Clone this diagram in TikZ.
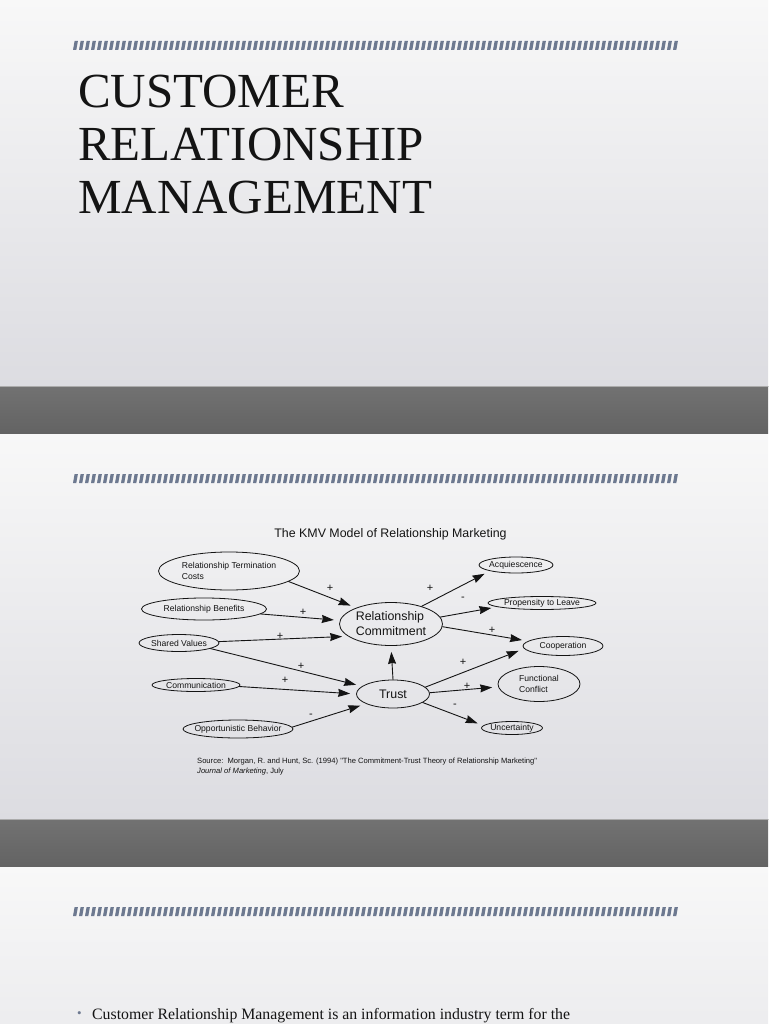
\documentclass[tikz,border=0pt]{standalone}
\usepackage{fontspec}
\setmainfont{Liberation Serif}
\newfontfamily\kmvsans{Liberation Sans}
\usetikzlibrary{arrows.meta,positioning,shapes.geometric}
\definecolor{kmvink}{HTML}{141414}
\definecolor{kmvstripe}{HTML}{6D7990}
\definecolor{kmvpaper}{HTML}{F8F8F8}
\definecolor{kmvshade}{HTML}{DCDCE1}
\definecolor{kmvband}{HTML}{727272}
\definecolor{kmvbanddark}{HTML}{636363}
\definecolor{kmvedge}{HTML}{ABABAB}

\begin{document}
\begin{tikzpicture}[x=1pt,y=-1pt,line cap=round,line join=round,
  >={Stealth[length=12pt,width=8pt,inset=1pt]},
  slide/.style={top color=kmvpaper,bottom color=kmvshade},
  band/.style={top color=kmvband,bottom color=kmvbanddark},
  oval/.style={ellipse,draw=kmvink,line width=.8pt,inner xsep=-6pt,inner ysep=0pt,
    align=left,text=kmvink,font=\kmvsans\fontsize{8.6}{11}\selectfont},
  core/.style={oval,font=\kmvsans\fontsize{12.4}{15}\selectfont},
  link/.style={->,draw=kmvink,line width=.9pt,shorten >=6pt},
  sign/.style={inner sep=0pt,text=kmvink,font=\kmvsans\fontsize{11}{11}\selectfont}]
\useasboundingbox (0,0) rectangle (768,1024);

% slides and the stone bands between them
\shade[slide] (0,0) rectangle (768,386);
\shade[slide] (0,433) rectangle (768,819);
\shade[slide] (0,866) rectangle (768,1252);
\shade[band] (0,386) rectangle (768,433);
\shade[band] (0,819) rectangle (768,866);
\draw[kmvedge,line width=1.2pt] (0,386.5) -- (768,386.5);
\draw[kmvedge,line width=1.2pt] (0,819.5) -- (768,819.5);

% hatched rule on top of each slide
\foreach \row in {41,474,907} {
  \foreach \i in {0,...,100} {
    \fill[kmvstripe] ({73+6*\i},{\row+9}) -- ++(3.3,0) -- ++(1.6,-9) -- ++(-3.3,0) -- cycle;
  }
}

% title slide
\node[anchor=north west,inner sep=0pt,align=left,text=kmvink,
  font=\fontsize{49}{53.3}\selectfont] (title) at (78,74.5)
  {CUSTOMER\\RELATIONSHIP\\MANAGEMENT};

% KMV model
\node[text=kmvink,font=\kmvsans\fontsize{12.4}{15}\selectfont] (kmvtitle) at (390.5,534)
  {The KMV Model of Relationship Marketing};

\node[oval,minimum width=141pt,minimum height=38pt] (rtc) at (229,571) {Relationship Termination\\Costs};
\node[oval,minimum width=125pt,minimum height=22pt] (rb) at (204,609) {Relationship Benefits};
\node[oval,minimum width=80pt,minimum height=17pt] (sv) at (179,643) {Shared Values};
\node[oval,minimum width=88pt,minimum height=13pt] (com) at (196,685) {Communication};
\node[oval,minimum width=110pt,minimum height=18pt] (ob) at (238,729) {Opportunistic Behavior};

\node[core,minimum width=103pt,minimum height=43pt] (rc) at (391,624) {Relationship\\Commitment};
\node[core,minimum width=73pt,minimum height=28pt] (trust) at (393,694) {Trust};

\node[oval,minimum width=74pt,minimum height=16pt] (acq) at (516,565) {Acquiescence};
\node[oval,minimum width=108pt,minimum height=13pt] (ptl) at (542,603) {Propensity to Leave};
\node[oval,minimum width=80pt,minimum height=19pt] (coop) at (563,646) {Cooperation};
\node[oval,minimum width=82pt,minimum height=35pt] (fc) at (539,684) {Functional\\Conflict};
\node[oval,minimum width=61pt,minimum height=13pt] (unc) at (512,728) {Uncertainty};

\foreach \a/\b in {rtc.-10/rc.155, rb.-5/rc.176, sv.2/rc.196,
    sv.-10/trust.166, com.-2/trust.180, ob.2/trust.200, trust.90/rc.-90,
    rc.30/acq.193, rc.8/ptl.185, rc.-3/coop.172,
    trust.12/coop.184, trust.2/fc.184, trust.-16/unc.175}
  \draw[link] (\a) -- (\b);

% signs on the links
\foreach \x/\y/\s [count=\k] in {330/588/+, 303/612/+, 280/636/+, 301/666/+, 285/680/+,
    311/716/-, 430/588/+, 463/599/-, 492/630/+, 463/662/+, 467/686/+, 455/706/-}
  \node[sign] (sign\k) at (\x,\y) {\s};

\node[anchor=north west,inner sep=0pt,align=left,text=kmvink,
  font=\kmvsans\fontsize{7.6}{10}\selectfont] (source) at (197,758)
  {Source:\ \ Morgan, R. and Hunt, Sc. (1994) "The Commitment-Trust Theory of Relationship Marketing"\\
   \textit{Journal of Marketing}, July};

% last slide
\node[anchor=base,inner sep=0pt,text=kmvstripe,font=\fontsize{13}{13}\selectfont] (bullet) at (79.5,1017) {\textbullet};
\node[anchor=base west,inner sep=0pt,text=kmvink,font=\fontsize{15.8}{19}\selectfont] (crmtext) at (92,1019.5)
  {Customer Relationship Management is an information industry term for the};
\end{tikzpicture}
\end{document}
